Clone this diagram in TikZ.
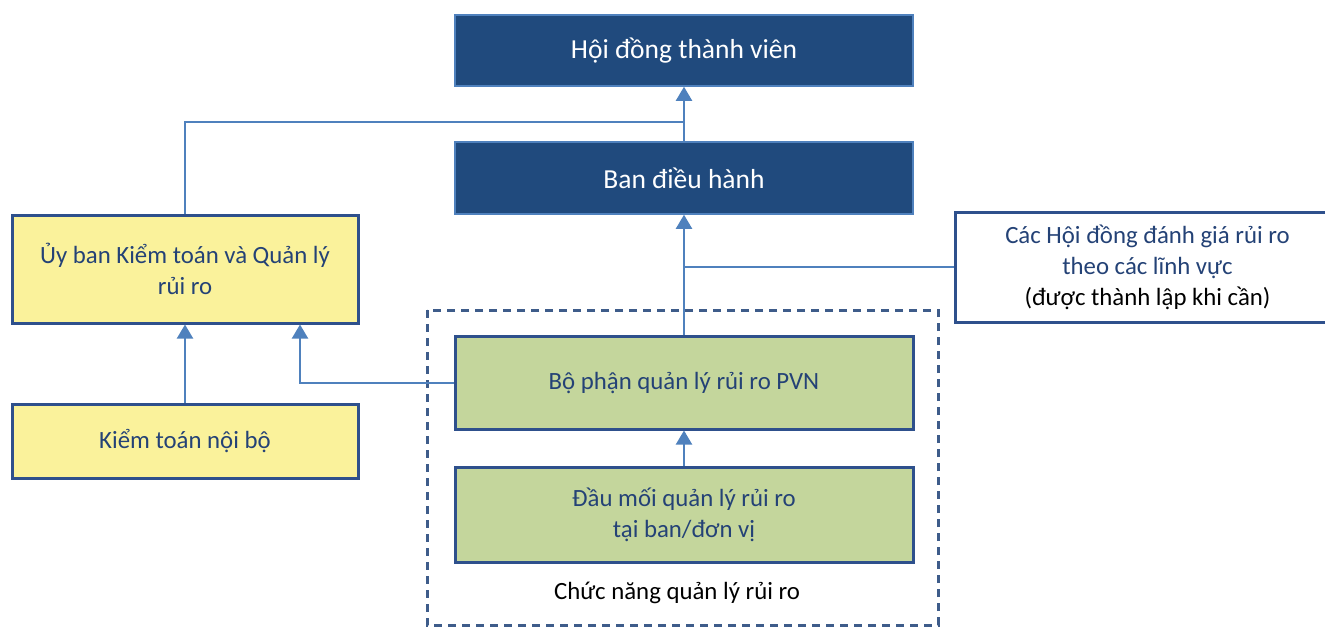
\documentclass[tikz,border=0pt]{standalone}
\usepackage{fontspec}
\setmainfont{Carlito}
\usepackage{xcolor}
\usepackage{tikz}
\usetikzlibrary{arrows.meta, positioning}
\definecolor{boardblue}{RGB}{32, 74, 125}
\definecolor{linkblue}{RGB}{79, 129, 189}
\definecolor{edgeblue}{RGB}{46, 80, 140}
\definecolor{textblue}{RGB}{36, 66, 118}
\definecolor{audityellow}{RGB}{250, 242, 155}
\definecolor{riskgreen}{RGB}{196, 214, 156}
\definecolor{dashgray}{RGB}{62, 92, 138}

\begin{document}
\begin{tikzpicture}[x=1pt, y=-1pt, >={Triangle[width=16pt,length=14pt]},
  every node/.style={font=\fontsize{24.8}{31}\selectfont},
  boardbox/.style={rectangle, draw=linkblue, line width=1.5pt, fill=boardblue, text=white, minimum width=458pt, font=\fontsize{27.5}{32}\selectfont},
  auditbox/.style={rectangle, draw=edgeblue, line width=3pt, fill=audityellow, text=textblue, minimum width=346pt, align=center},
  riskbox/.style={rectangle, draw=edgeblue, line width=3pt, fill=riskgreen, text=textblue, minimum width=458pt, align=center},
  link/.style={draw=linkblue, line width=2pt}]
\useasboundingbox (0,0) rectangle (1325,627);

% Top management
\node[boardbox, minimum height=71pt] at (684,50.5) (hdtv) {Hội đồng thành viên};
\node[boardbox, minimum height=72pt] at (684,178) (bdh) {Ban điều hành};

% Risk councils (cut at the right edge)
\node[rectangle, draw=edgeblue, line width=3pt, fill=white, minimum width=385pt, minimum height=110pt, align=center] at (1147.5,267) (cachd) {\textcolor{textblue}{Các Hội đồng đánh giá rủi ro}\\\textcolor{textblue}{theo các lĩnh vực}\\(được thành lập khi cần)};

% Audit side
\node[auditbox, minimum height=108pt] at (185,269) (ubkt) {Ủy ban Kiểm toán và Quản lý\\rủi ro};
\node[auditbox, minimum height=74pt] at (185,441) (ktnb) {Kiểm toán nội bộ};

% Risk management function
\node[riskbox, minimum height=93pt] at (684,382.5) (bpql) {Bộ phận quản lý rủi ro PVN};
\node[riskbox, minimum height=95pt] at (684,514.5) (dmql) {Đầu mối quản lý rủi ro\\tại ban/đơn vị};

\draw[dashgray, dashed, dash pattern=on 8pt off 6pt, line width=3pt] (427,310) rectangle (938,625);
\node at (677,593) (cnql) {Chức năng quản lý rủi ro};

% Junctions
\coordinate (jtop) at (684,122);
\coordinate (jmid) at (684,267);

% Connections
\draw[link, ->] (bdh.north) -- (hdtv.south);
\draw[link] (ubkt.north) |- (jtop);
\draw[link, ->] (bpql.north) -- (bdh.south);
\draw[link] (cachd.west) -- (jmid);
\draw[link, ->] (bpql.west) -| ([xshift=115pt]ubkt.south);
\draw[link, ->] (ktnb.north) -- (ubkt.south);
\draw[link, ->] (dmql.north) -- (bpql.south);
\end{tikzpicture}
\end{document}
